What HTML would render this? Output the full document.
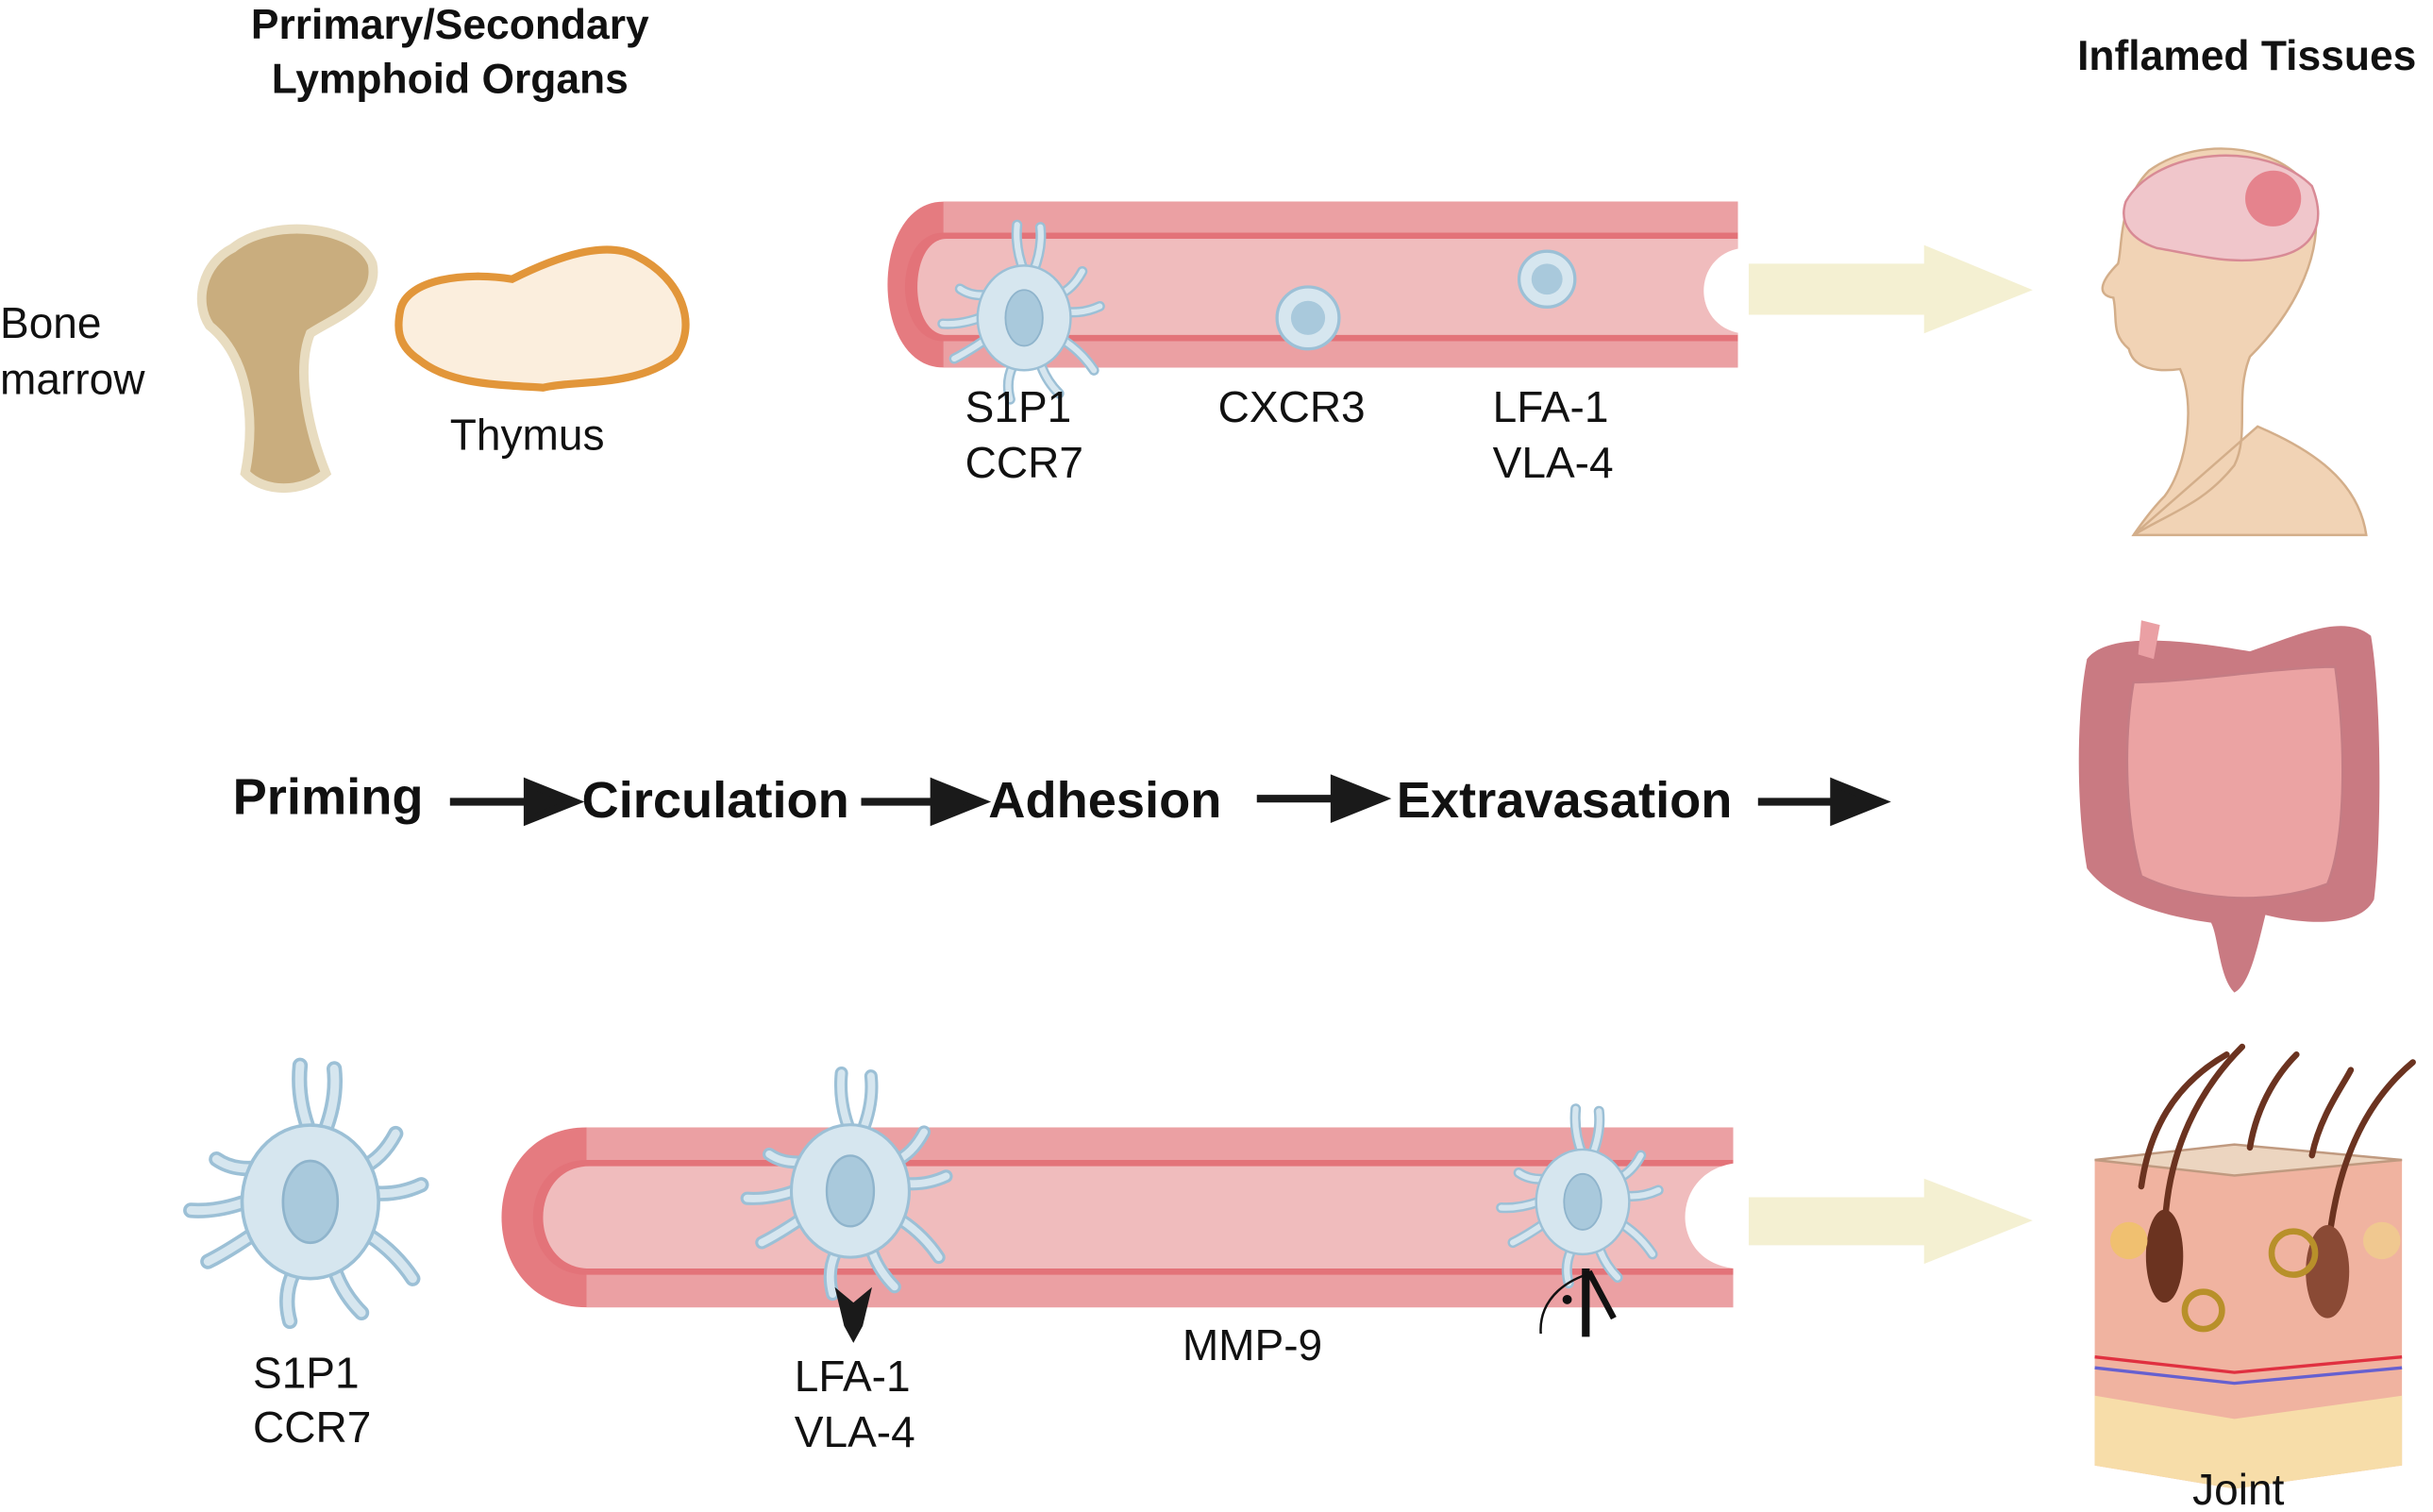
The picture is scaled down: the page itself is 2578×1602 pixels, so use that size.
<!DOCTYPE html>
<html><head><style>
html,body{margin:0;padding:0;background:#fff;}
svg{display:block;}
text{font-family:"Liberation Sans",sans-serif;fill:#111;}
.b{font-weight:bold;}
</style></head><body>
<svg width="2578" height="1602" viewBox="0 0 1568 975" preserveAspectRatio="none" xmlns="http://www.w3.org/2000/svg">
<defs>
<g id="dc">
 <g stroke-linecap="round" fill="none">
  <g stroke="#9cc0d6" stroke-width="9">
   <path d="M0,-40 Q-8,-60 -6,-80 M8,-40 Q16,-60 14,-78 M-30,-20 Q-45,-18 -55,-25 M30,-20 Q42,-25 50,-40 M-35,20 Q-50,30 -60,35 M35,20 Q50,30 60,45 M-10,42 Q-16,55 -12,70 M15,42 Q20,55 30,65 M-38,0 Q-55,6 -70,5 M38,-5 Q52,-4 65,-10"/>
  </g>
  <g stroke="#d6e6ef" stroke-width="5">
   <path d="M0,-40 Q-8,-60 -6,-80 M8,-40 Q16,-60 14,-78 M-30,-20 Q-45,-18 -55,-25 M30,-20 Q42,-25 50,-40 M-35,20 Q-50,30 -60,35 M35,20 Q50,30 60,45 M-10,42 Q-16,55 -12,70 M15,42 Q20,55 30,65 M-38,0 Q-55,6 -70,5 M38,-5 Q52,-4 65,-10"/>
  </g>
 </g>
 <ellipse cx="0" cy="0" rx="40" ry="45" fill="#d6e6ef" stroke="#9cc0d6" stroke-width="2"/>
 <ellipse cx="0" cy="0" rx="16" ry="24" fill="#a9c9dc" stroke="#8fb4cc" stroke-width="1.5"/>
</g>
</defs>

<text x="290" y="25" font-size="27" class="b" text-anchor="middle">Prrimary/Secondary</text>
<text x="290" y="60" font-size="27" class="b" text-anchor="middle">Lymphoid Organs</text>
<text x="1448" y="45" font-size="27" class="b" text-anchor="middle">Inflamed Tissues</text>
<text x="0" y="218" font-size="28">Bone</text>
<text x="0" y="254" font-size="28">marrow</text>
<text x="290" y="290" font-size="28">Thymus</text>

<path d="M150,160 C175,140 230,145 240,170 C245,195 215,205 200,215 C190,240 200,280 210,305 C195,318 170,318 158,305 C165,270 160,230 135,210 C125,195 130,170 150,160Z" fill="#c9ad7e" stroke="#e8dcc0" stroke-width="6"/>
<path d="M258,200 C262,180 300,175 330,180 C360,165 390,155 410,165 C440,180 450,210 435,230 C410,250 370,245 350,250 C320,248 290,248 270,232 C255,222 256,210 258,200Z" fill="#fbeedd" stroke="#e2963a" stroke-width="5"/>

<path d="M608,130 L1120,130 L1120,237 L608,237 C560,237 560,130 608,130Z" fill="#e57b80"/>
<rect x="608" y="130" width="512" height="107" fill="#eba0a3"/>
<path d="M608,150 L1120,150 L1120,220 L608,220 C575,220 575,150 608,150Z" fill="#e37379"/>
<path d="M610,154 L1120,154 L1120,216 L610,216 C585,216 585,154 610,154Z" fill="#f0bcbd"/>
<path d="M1122,160 C1090,165 1090,210 1122,215Z" fill="#fff"/>
<use href="#dc" transform="translate(660,205) scale(0.75)"/>
<circle cx="843" cy="205" r="20" fill="#d6e6ef" stroke="#9cc0d6" stroke-width="2"/>
<circle cx="843" cy="205" r="11" fill="#a9c9dc"/>
<circle cx="997" cy="180" r="18" fill="#d6e6ef" stroke="#9cc0d6" stroke-width="2"/>
<circle cx="997" cy="180" r="10" fill="#a9c9dc"/>
<text x="622" y="272" font-size="28">S1P1</text>
<text x="622" y="308" font-size="28">CCR7</text>
<text x="785" y="272" font-size="28">CXCR3</text>
<text x="962" y="272" font-size="28">LFA-1</text>
<text x="962" y="308" font-size="28">VLA-4</text>
<polygon points="1127,170 1240,170 1240,158 1310,187 1240,215 1240,203 1127,203" fill="#f4f0d2"/>

<text x="150" y="525" font-size="33" class="b">Priming</text>
<text x="375" y="527" font-size="33" class="b">Circulation</text>
<text x="637" y="527" font-size="33" class="b">Adhesion</text>
<text x="900" y="527" font-size="33" class="b">Extravasation</text>
<g stroke="#1a1a1a" stroke-width="5" fill="#1a1a1a">
<line x1="290" y1="517" x2="345" y2="517"/><polygon points="340,505 370,517 340,529"/>
<line x1="555" y1="517" x2="607" y2="517"/><polygon points="602,505 632,517 602,529"/>
<line x1="810" y1="515" x2="865" y2="515"/><polygon points="860,503 890,515 860,527"/>
<line x1="1133" y1="517" x2="1187" y2="517"/><polygon points="1182,505 1212,517 1182,529"/>
</g>

<path d="M378,727 L1117,727 L1117,843 L378,843 C305,843 305,727 378,727Z" fill="#e57b80"/>
<rect x="378" y="727" width="739" height="116" fill="#eba0a3"/>
<path d="M378,748 L1117,748 L1117,822 L378,822 C332,822 332,748 378,748Z" fill="#e37379"/>
<path d="M380,752 L1117,752 L1117,818 L380,818 C340,818 340,752 380,752Z" fill="#f0bcbd"/>
<path d="M1119,750 C1075,755 1075,815 1119,818Z" fill="#fff"/>
<use href="#dc" transform="translate(200,775) scale(1.1)"/>
<use href="#dc" transform="translate(548,768) scale(0.95)"/>
<use href="#dc" transform="translate(1020,775) scale(0.75)"/>
<polygon points="538,830 550,840 562,830 556,855 550,866 544,855" fill="#1a1a1a"/>
<g stroke="#111" fill="none">
<line x1="1022" y1="818" x2="1022" y2="862" stroke-width="5"/>
<line x1="1024" y1="820" x2="1040" y2="850" stroke-width="4"/>
<path d="M1022,822 C1000,830 992,845 993,860" stroke-width="1.5"/>
</g>
<circle cx="1010" cy="838" r="3" fill="#111"/>
<text x="163" y="895" font-size="28">S1P1</text>
<text x="163" y="930" font-size="28">CCR7</text>
<text x="512" y="897" font-size="28">LFA-1</text>
<text x="512" y="933" font-size="28">VLA-4</text>
<text x="762" y="877" font-size="28">MMP-9</text>
<polygon points="1127,772 1240,772 1240,760 1310,787 1240,815 1240,803 1127,803" fill="#f4f0d2"/>

<path d="M1375,345 C1400,330 1420,325 1440,300 C1450,280 1440,255 1450,230 C1480,200 1500,160 1490,125 C1475,95 1420,85 1385,110 C1365,130 1368,160 1365,170 C1355,180 1350,190 1362,192 C1365,205 1360,215 1372,225 C1375,238 1390,240 1405,238 C1415,260 1410,300 1395,320 C1385,330 1375,345 1375,345 L1525,345 C1520,310 1490,290 1455,275 Z" fill="#f1d3b5" stroke="#d3ae8a" stroke-width="1.5"/>
<path d="M1370,130 C1390,95 1460,90 1490,120 C1500,145 1490,160 1470,165 C1440,172 1420,165 1390,160 C1375,155 1365,145 1370,130Z" fill="#f0c6cb" stroke="#d88a95" stroke-width="1.5"/>
<circle cx="1465" cy="128" r="18" fill="#d94050" opacity="0.5"/>

<path d="M1345,425 C1360,405 1420,415 1450,420 C1480,410 1510,395 1528,410 C1535,450 1535,540 1530,580 C1520,600 1480,595 1460,590 C1455,610 1450,635 1440,640 C1430,630 1430,605 1425,595 C1390,590 1360,580 1345,560 C1338,520 1338,460 1345,425Z" fill="#c97a82"/>
<path d="M1375,440 C1410,440 1470,430 1505,430 C1512,480 1512,540 1500,570 C1460,585 1410,580 1380,565 C1370,530 1368,480 1375,440Z" fill="#eba3a3" stroke="#c47c84" stroke-width="1.5"/>
<path d="M1380,400 L1392,403 L1388,425 L1378,422Z" fill="#eaa0a4"/>

<path d="M1350,748 L1440,738 L1548,748 L1548,945 L1440,960 L1350,945Z" fill="#f0b3a0"/>
<path d="M1350,748 L1440,738 L1548,748 L1440,758Z" fill="#ecd5c0" stroke="#c09a80" stroke-width="1.5"/>
<path d="M1350,900 L1440,915 L1548,900 L1548,945 L1440,960 L1350,945Z" fill="#f7dda9"/>
<path d="M1350,875 L1440,885 L1548,875" stroke="#e03040" stroke-width="2" fill="none"/>
<path d="M1350,882 L1440,892 L1548,882" stroke="#6660d0" stroke-width="2" fill="none"/>
<g stroke="#6b3320" stroke-width="4" fill="none" stroke-linecap="round">
<path d="M1380,765 C1385,730 1400,700 1435,680"/>
<path d="M1395,800 C1395,740 1420,700 1445,675"/>
<path d="M1450,740 C1455,710 1470,690 1480,680"/>
<path d="M1490,745 C1495,720 1510,700 1515,690"/>
<path d="M1500,810 C1505,750 1525,710 1555,685"/>
</g>
<ellipse cx="1395" cy="810" rx="12" ry="30" fill="#6b3320"/>
<ellipse cx="1500" cy="820" rx="14" ry="30" fill="#8a4a35"/>
<circle cx="1420" cy="845" r="12" fill="none" stroke="#b8902a" stroke-width="4"/>
<circle cx="1478" cy="808" r="14" fill="none" stroke="#b8902a" stroke-width="4"/>
<circle cx="1372" cy="800" r="12" fill="#f0c070"/>
<circle cx="1535" cy="800" r="12" fill="#f0c890"/>
<text x="1413" y="970" font-size="28">Joint</text>
</svg>
</body></html>
